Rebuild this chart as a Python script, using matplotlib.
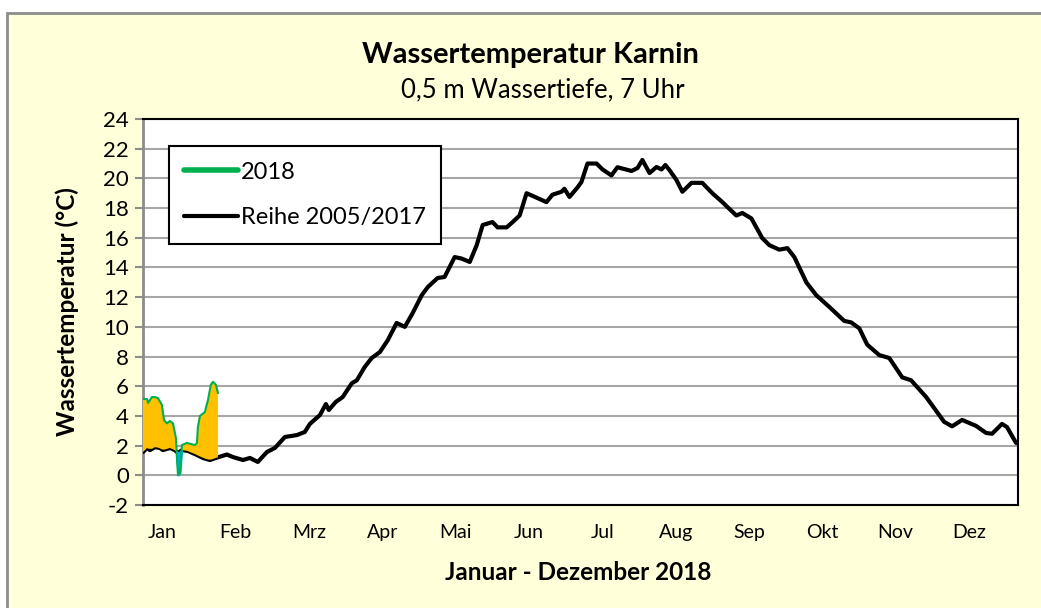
import numpy as np
import matplotlib.pyplot as plt
from matplotlib.patches import Rectangle

plt.rcParams['font.family'] = ['Lato', 'DejaVu Sans']
plt.rcParams['axes.unicode_minus'] = False

months = ['Jan', 'Feb', 'Mrz', 'Apr', 'Mai', 'Jun', 'Jul', 'Aug', 'Sep', 'Okt', 'Nov', 'Dez']

# long-term mean 2005/2017 (day of year, deg C)
ref_days = [0.0, 1.7, 2.9, 5.0, 7.1, 8.3, 11.3, 13.3, 14.6, 16.3, 18.8, 22.5, 25.0, 27.9,
            30.4, 35.0, 37.5, 41.7, 44.6, 47.9, 51.7, 55.0, 59.2, 64.2, 67.5, 69.6, 73.8,
            76.3, 77.5, 80.4, 83.3, 87.1, 89.2, 92.5, 95.4, 98.8, 102.1, 105.8, 109.2,
            112.5, 116.3, 118.8, 122.9, 125.8, 130.0, 132.9, 136.3, 139.2, 141.7, 145.8,
            147.9, 151.7, 154.2, 157.1, 160.0, 164.2, 168.3, 170.8, 174.6, 175.8, 177.9,
            181.3, 182.9, 185.4, 189.2, 191.7, 195.4, 197.9, 203.8, 206.3, 208.3, 211.3,
            214.2, 216.3, 217.9, 219.6, 222.5, 225.0, 228.8, 233.3, 237.5, 241.7, 243.8,
            247.5, 250.0, 253.8, 258.3, 261.3, 265.4, 268.8, 271.7, 276.7, 280.8, 286.3,
            292.5, 295.4, 298.8, 302.1, 307.1, 311.3, 316.7, 320.4, 326.7, 334.2, 337.5,
            341.7, 347.5, 351.7, 354.2, 358.3, 360.4, 364.2]
ref_temp = [1.57, 1.84, 1.70, 1.90, 1.84, 1.70, 1.84, 1.70, 1.50, 1.70, 1.64, 1.37, 1.17, 1.03,
            1.17, 1.40, 1.23, 1.03, 1.17, 0.90, 1.57, 1.84, 2.58, 2.71, 2.92, 3.46, 4.06,
            4.80, 4.40, 4.94, 5.27, 6.20, 6.40, 7.30, 7.90, 8.30, 9.10, 10.26, 10.00,
            10.93, 12.14, 12.68, 13.29, 13.36, 14.70, 14.60, 14.37, 15.50, 16.86, 17.06,
            16.70, 16.70, 17.06, 17.50, 19.00, 18.70, 18.40, 18.90, 19.10, 19.30, 18.75,
            19.40, 19.76, 21.00, 21.00, 20.60, 20.20, 20.75, 20.50, 20.70, 21.24, 20.36,
            20.77, 20.60, 20.90, 20.56, 19.90, 19.10, 19.70, 19.70, 19.00, 18.40, 18.07,
            17.50, 17.67, 17.30, 15.98, 15.50, 15.20, 15.30, 14.70, 13.00, 12.14, 11.34,
            10.40, 10.30, 9.90, 8.80, 8.10, 7.90, 6.60, 6.40, 5.27, 3.60, 3.30,
            3.73, 3.33, 2.85, 2.80, 3.46, 3.25, 2.18]

# 2018 measurements
y18_days = [0.0, 1.7, 2.1, 3.75, 5.0, 6.25, 7.9, 8.75, 10.0, 11.25, 12.5, 13.75, 14.2, 14.6,
            15.4, 16.25, 18.3, 21.7, 22.5, 22.9, 23.75, 25.8, 27.1, 28.3, 29.2, 30.4, 31.25]
y18_temp = [5.14, 5.14, 4.87, 5.27, 5.27, 5.20, 4.74, 3.73, 3.50, 3.66, 3.50, 2.50, 1.03, 0.02,
            0.13, 2.04, 2.18, 2.04, 2.18, 3.25, 4.00, 4.26, 5.07, 6.10, 6.30, 6.10, 5.55]

fig = plt.figure(figsize=(10.41, 6.08), dpi=100, facecolor='white')
fig.patches.append(Rectangle((7 / 1041, -0.02), 1.05, 0.9786 + 0.02, transform=fig.transFigure,
                             facecolor='#FFFFD9', edgecolor='#8C8C8C', linewidth=2, zorder=-10))

ax = fig.add_axes([143 / 1041, 1 - 505 / 608, 875 / 1041, 386 / 608])
ax.set_facecolor('white')

ax.plot(ref_days, ref_temp, color='black', lw=3, solid_capstyle='round', zorder=3,
        label='Reihe 2005/2017')

d18 = np.array(y18_days)
t18 = np.array(y18_temp)
base = np.interp(d18, ref_days, ref_temp)
ax.fill_between(d18, base, t18, where=t18 >= base, interpolate=True, color='#FFC000', lw=0, zorder=4)
ax.fill_between(d18, base, t18, where=t18 < base, interpolate=True, color='#00AEEF',
                edgecolor='#00AEEF', lw=1.5, zorder=4)
ax.plot(d18, t18, color='#00B050', lw=1.5, zorder=5)
ax.plot([], [], color='#00B050', lw=4, solid_capstyle='round', label='2018')

ax.set_xlim(0, 365)
ax.set_ylim(-2, 24)
ax.set_yticks(np.arange(-2, 25, 2))
ax.grid(axis='y', color='#A6A6A6', lw=1.5)
ax.set_axisbelow(True)
ax.set_xticks(np.arange(12) * 30.6 + 8)
ax.set_xticklabels(months)
ax.tick_params(axis='x', length=0, pad=14, labelsize=14)
ax.tick_params(axis='y', length=6, width=1.5, color='#8C8C8C', labelsize=16, pad=4)

for side in ['top', 'right', 'bottom']:
    ax.spines[side].set_color('black')
    ax.spines[side].set_linewidth(1.5)
ax.spines['left'].set_color('#8C8C8C')
ax.spines['left'].set_linewidth(2)

ax.set_ylabel('Wassertemperatur (°C)', fontsize=17.5, fontweight='bold')
ax.yaxis.set_label_coords(-0.073, 0.5)

handles, labels = ax.get_legend_handles_labels()
leg = ax.legend(handles[::-1], labels[::-1], loc='upper left', bbox_to_anchor=(0.016, 0.96),
                fontsize=17, handlelength=2.3, handletextpad=0.1, labelspacing=1.05,
                borderpad=0.65, fancybox=False, framealpha=1, edgecolor='black')
leg.get_frame().set_linewidth(1.5)
leg.set_zorder(10)

fig.text(0.510, 0.9095, 'Wassertemperatur Karnin', ha='center', va='center',
         fontsize=21, fontweight='bold')
fig.text(0.5216, 0.852, '0,5 m Wassertiefe, 7 Uhr', ha='center', va='center', fontsize=18.5)
fig.text(0.555, 0.059, 'Januar - Dezember 2018', ha='center', va='center',
         fontsize=17.5, fontweight='bold')

fig.savefig('out.png', dpi=100, facecolor=fig.get_facecolor())
